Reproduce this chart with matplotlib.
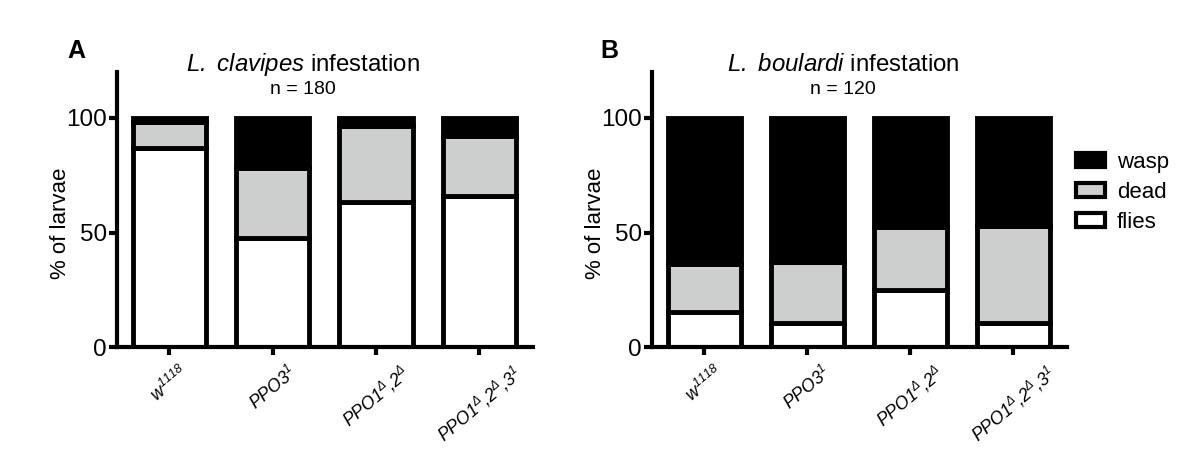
import numpy as np
import matplotlib.pyplot as plt
from matplotlib.patches import Patch

plt.rcParams["font.family"] = ["Liberation Sans", "DejaVu Sans"]
plt.rcParams["mathtext.fontset"] = "custom"
plt.rcParams["mathtext.rm"] = "Liberation Sans:italic"
plt.rcParams["mathtext.it"] = "Liberation Sans:italic"
plt.rcParams["mathtext.bf"] = "Liberation Sans:bold"

genotypes = [r"$w^{1118}$", r"$PPO3^{1}$", r"$PPO1^{\Delta}{,}2^{\Delta}$",
             r"$PPO1^{\Delta}{,}2^{\Delta}{,}3^{1}$"]
segments = ["wasp", "dead", "flies"]

# panel A: L. clavipes, n = 180
flies_a = [87, 47.5, 63.5, 66]
dead_a = [11, 30.5, 33, 26]
wasp_a = [2, 22, 3.5, 8]

# panel B: L. boulardi, n = 120
flies_b = [15.5, 10.5, 25, 10.5]
dead_b = [21, 26.5, 27.5, 42.5]
wasp_b = [63.5, 63, 47.5, 47]

gray = "#cdcfce"
lw = 3.5

fig = plt.figure(figsize=(11.96, 4.70), dpi=100)
ax_a = fig.add_axes([0.0976, 0.261, 0.348, 0.586])
ax_b = fig.add_axes([0.5449, 0.261, 0.347, 0.586])


def draw(ax, flies, dead, wasp):
    x = np.arange(len(genotypes))
    flies = np.array(flies)
    dead = np.array(dead)
    wasp = np.array(wasp)
    w = 0.71
    ax.bar(x, flies, w, color="white", edgecolor="black", linewidth=lw)
    ax.bar(x, dead, w, bottom=flies, color=gray, edgecolor="black", linewidth=lw)
    ax.bar(x, wasp, w, bottom=flies + dead, color="black", edgecolor="black",
           linewidth=lw)
    ax.set_xlim(-0.51, 3.52)
    ax.set_ylim(0, 120)
    ax.set_yticks([0, 50, 100])
    ax.set_xticks(x)
    ax.tick_params(axis="y", labelsize=17.5, width=3, length=6, pad=1.2)
    ax.tick_params(axis="x", width=3, length=6, pad=5)
    # slanted labels centred under their tick
    ax.set_xticklabels(genotypes, rotation=40, ha="center", va="top",
                       fontsize=12.8)
    for s in ["top", "right"]:
        ax.spines[s].set_visible(False)
    for s in ["left", "bottom"]:
        ax.spines[s].set_linewidth(3)
    ax.set_ylabel("% of larvae", fontsize=16)
    ax.yaxis.set_label_coords(-0.11, 0.451)


draw(ax_a, flies_a, dead_a, wasp_a)
draw(ax_b, flies_b, dead_b, wasp_b)

fig.text(303 / 1196, 1 - 65 / 470, r"$L.\ clavipes$ infestation", fontsize=17.3,
         ha="center", va="center")
fig.text(303 / 1196, 1 - 90 / 470, "n = 180", fontsize=14, ha="center",
         va="center")
fig.text(843 / 1196, 1 - 65 / 470, r"$L.\ boulardi$ infestation", fontsize=17.3,
         ha="center", va="center")
fig.text(843 / 1196, 1 - 90 / 470, "n = 120", fontsize=14, ha="center",
         va="center")
fig.text(67 / 1196, 1 - 51 / 470, "A", fontsize=18, fontweight="bold",
         ha="left", va="center")
fig.text(600 / 1196, 1 - 51 / 470, "B", fontsize=18, fontweight="bold",
         ha="left", va="center")

handles = [Patch(facecolor="black", edgecolor="black", linewidth=3),
           Patch(facecolor=gray, edgecolor="black", linewidth=3),
           Patch(facecolor="white", edgecolor="black", linewidth=3)]
fig.legend(handles, segments, loc="upper left",
           bbox_to_anchor=(1067 / 1196, 1 - 143 / 470), frameon=False,
           fontsize=16, handlelength=1.3, handleheight=0.6, labelspacing=0.4,
           handletextpad=0.55, borderaxespad=0)

fig.savefig("out.png", dpi=100)
